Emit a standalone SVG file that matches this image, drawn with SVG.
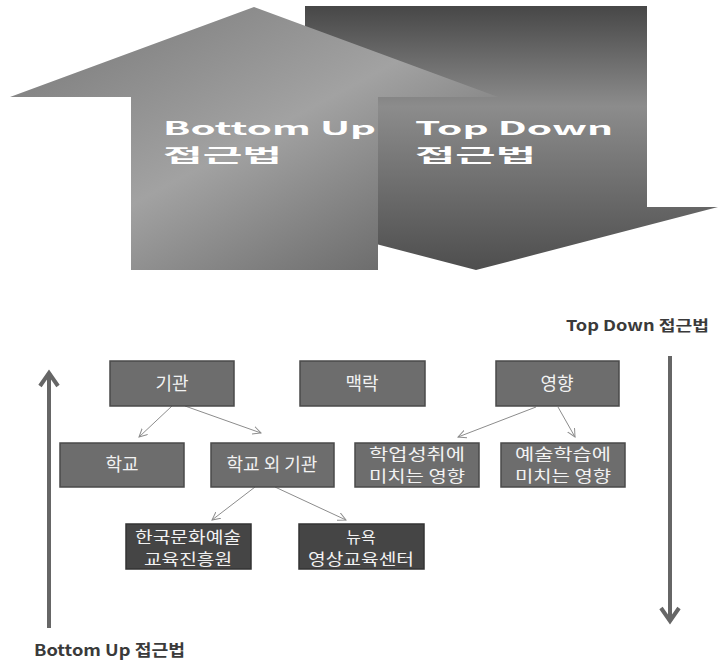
<svg xmlns="http://www.w3.org/2000/svg" width="718" height="660" viewBox="0 0 718 660">
<defs>
<linearGradient id="gDown" x1="0" y1="0" x2="0" y2="1">
<stop offset="0" stop-color="#474747"/>
<stop offset="0.38" stop-color="#8c8c8c"/>
<stop offset="1" stop-color="#4e4e4e"/>
</linearGradient>
<linearGradient id="gUp" x1="0" y1="0" x2="1" y2="1">
<stop offset="0" stop-color="#767676"/>
<stop offset="0.5" stop-color="#a2a2a2"/>
<stop offset="1" stop-color="#5c5c5c"/>
</linearGradient>
<marker id="ah" viewBox="0 0 10 10" refX="9" refY="5" markerWidth="9" markerHeight="9" markerUnits="userSpaceOnUse" orient="auto">
<path d="M0,0.5 L9,5 L0,9.5" fill="none" stroke="#8c8c8c" stroke-width="1.1"/>
</marker>
<style>
.box{fill:#6d6d6d;stroke:#4a4a4a;stroke-width:1.5}
.dbox{fill:#454545;stroke:#333;stroke-width:1.5}
.bt{font-family:"Noto Sans CJK KR","Noto Sans",sans-serif;font-size:18px;fill:#f2f2f2;text-anchor:middle}
.bt2{font-family:"Noto Sans CJK KR","Noto Sans",sans-serif;font-size:16px;fill:#f2f2f2;text-anchor:middle}
.big{font-family:"Noto Sans CJK KR","DejaVu Sans",sans-serif;font-weight:bold;font-size:18px;fill:#ffffff}
.lbl{font-family:"Noto Sans CJK KR","Noto Sans",sans-serif;font-weight:bold;fill:#3a3a3a}
.con{stroke:#8c8c8c;stroke-width:1;fill:none;marker-end:url(#ah)}
.axis{stroke:#666;stroke-width:4;fill:none}
</style>
</defs>

<g id="topdown-arrow">
<polygon points="305,6 647,6 647,207 718,207 476,270 234,207 305,207" fill="url(#gDown)"/>
<text class="big" x="415" y="135" textLength="198" lengthAdjust="spacingAndGlyphs">Top Down</text>
<text class="big" x="415" y="162" textLength="121" lengthAdjust="spacingAndGlyphs">접근법</text>
</g>
<g id="bottomup-arrow">
<polygon points="254,7 498,97 378,97 378,270 131,270 131,97 10,97" fill="url(#gUp)"/>
<text class="big" x="163" y="135" textLength="213" lengthAdjust="spacingAndGlyphs">Bottom Up</text>
<text class="big" x="163" y="162" textLength="119" lengthAdjust="spacingAndGlyphs">접근법</text>
</g>

<g id="connectors">
<line class="con" x1="172" y1="406" x2="139" y2="437"/>
<line class="con" x1="185" y1="406" x2="261" y2="433"/>
<line class="con" x1="536" y1="407" x2="458" y2="437"/>
<line class="con" x1="558" y1="407" x2="575" y2="437"/>
<line class="con" x1="255" y1="487" x2="212" y2="520"/>
<line class="con" x1="275" y1="487" x2="346" y2="520"/>
<path class="axis" d="M49,628 L49,375 M40,386 L49,373 L58,386"/>
<path class="axis" d="M670,356 L670,619 M661,608 L670,621 L679,608"/>
</g>

<g id="n-gigwan"><rect class="box" x="110" y="361" width="124" height="45"/><text class="bt" x="172" y="390">기관</text></g>
<g id="n-maekrak"><rect class="box" x="300" y="361" width="125" height="45"/><text class="bt" x="362" y="390">맥락</text></g>
<g id="n-yeonghyang"><rect class="box" x="496" y="361" width="123" height="45"/><text class="bt" x="557" y="390">영향</text></g>
<g id="n-hakgyo"><rect class="box" x="60" y="443" width="124" height="44"/><text class="bt" x="122" y="471">학교</text></g>
<g id="n-hakgyo-oe"><rect class="box" x="211" y="443" width="123" height="44"/><text class="bt" x="272" y="471">학교 외 기관</text></g>
<g id="n-hakeop"><rect class="box" x="355" y="443" width="124" height="44"/><text class="bt2" x="417" y="460" textLength="96" lengthAdjust="spacingAndGlyphs">학업성취에</text><text class="bt2" x="417" y="482" textLength="96" lengthAdjust="spacingAndGlyphs">미치는 영향</text></g>
<g id="n-yesul"><rect class="box" x="501" y="443" width="124" height="44"/><text class="bt2" x="563" y="460" textLength="96" lengthAdjust="spacingAndGlyphs">예술학습에</text><text class="bt2" x="563" y="482" textLength="96" lengthAdjust="spacingAndGlyphs">미치는 영향</text></g>
<g id="n-arte"><rect class="dbox" x="126" y="524" width="125" height="45"/><text class="bt2" x="188" y="543" textLength="106" lengthAdjust="spacingAndGlyphs">한국문화예술</text><text class="bt2" x="188" y="565" textLength="88" lengthAdjust="spacingAndGlyphs">교육진흥원</text></g>
<g id="n-newyork"><rect class="dbox" x="299" y="524" width="125" height="45"/><text class="bt2" x="361" y="543">뉴욕</text><text class="bt2" x="361" y="565" textLength="106" lengthAdjust="spacingAndGlyphs">영상교육센터</text></g>

<g id="labels">
<text class="lbl" x="566" y="331" font-size="15" textLength="143" lengthAdjust="spacingAndGlyphs">Top Down 접근법</text>
<text class="lbl" x="34" y="656" font-size="16" textLength="151" lengthAdjust="spacingAndGlyphs">Bottom Up 접근법</text>
</g>
</svg>
